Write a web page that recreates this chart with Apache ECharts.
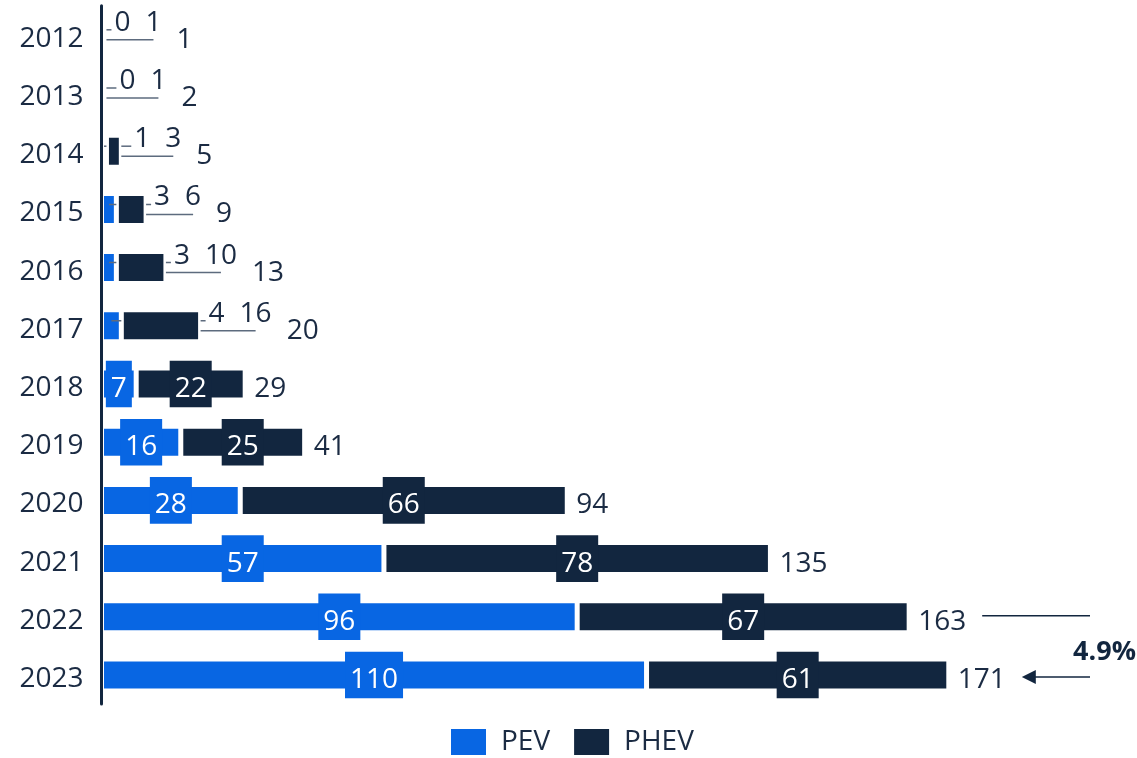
<!DOCTYPE html>
<html>
<head>
<meta charset="utf-8">
<title>PEV and PHEV sales</title>
<script src="https://cdn.jsdelivr.net/npm/echarts@6/dist/echarts.min.js"></script>
<style>
  html, body { margin: 0; padding: 0; background: #ffffff; }
  #chart { width: 1137px; height: 758px; }
</style>
</head>
<body>
<div id="chart"></div>
<script>
// ---- data ----
const years = ['2012', '2013', '2014', '2015', '2016', '2017', '2018', '2019', '2020', '2021', '2022', '2023'];
const pevSales = [0, 0, 1, 3, 3, 4, 7, 16, 28, 57, 96, 110];
const phevSales = [1, 1, 3, 6, 10, 16, 22, 25, 66, 78, 67, 61];
const totalSales = [1, 2, 5, 9, 13, 20, 29, 41, 94, 135, 163, 171];
const seriesNames = ['PEV', 'PHEV'];
const growthText = '4.9%';

// ---- style ----
const BLUE = '#0866e3';
const NAVY = '#12263f';
const TEXT = '#1b2b43';
const GUIDE = '#5d6b7e';
const FONT = '"Open Sans", "Noto Sans", sans-serif';
const FS = 28;
const BAR_W = 32;
const BORDER = 2.5;   // drawn inside the bar, so each side loses this much
const PAD_X = 5;
const TEXT_DROP = 5;  // digits sit slightly below the centre line

const measureCtx = document.createElement('canvas').getContext('2d');
function textW(s, font) {
  measureCtx.font = font || (FS + 'px ' + FONT);
  return measureCtx.measureText(String(s)).width;
}

const chart = echarts.init(document.getElementById('chart'), null, { renderer: 'canvas' });

function segmentSeries(name, vals, color, z, key, g) {
  const out = g ? g.outside : years.map(() => false);
  return {
    name: name,
    type: 'bar',
    stack: 'sales',
    barWidth: BAR_W,
    z: z,
    itemStyle: { color: color, borderColor: '#ffffff', borderWidth: BORDER },
    label: {
      show: true,
      position: 'inside',
      color: '#ffffff',
      fontSize: FS,
      fontFamily: FONT,
      backgroundColor: color,
      padding: [4.3, PAD_X],
      formatter: '{v|{c}}',
      rich: { v: { fontSize: FS, fontFamily: FONT, padding: [2 * TEXT_DROP, 0, 0, 0] } }
    },
    data: vals.map((v, i) => out[i]
      ? { value: v, label: { backgroundColor: 'transparent', color: TEXT, padding: 0 } }
      : v),
    labelLayout: g ? function (p) {
      const i = p.dataIndex;
      if (!out[i]) return {};
      return { x: g.pos[i][key], y: g.rowY[i] - 17, align: 'left', verticalAlign: 'middle' };
    } : undefined
  };
}

function build(g) {
  const out = g ? g.outside : years.map(() => false);
  const graphic = [];
  if (g) {
    // leader lines for labels placed beside the short bars
    years.forEach((y, i) => {
      if (!out[i]) return;
      const cy = g.rowY[i];
      const p = g.pos[i];
      graphic.push({
        type: 'line', z: 3, silent: true,
        shape: { x1: g.x0 + pevSales[i] * g.unit / 2, y1: cy - 5, x2: p.pevX - 3, y2: cy - 5 },
        style: { stroke: GUIDE, lineWidth: 1.5 }
      });
      graphic.push({
        type: 'line', z: 3, silent: true,
        shape: { x1: g.x0 + pevSales[i] * g.unit + 2, y1: cy + 5, x2: p.phevX + textW(phevSales[i]) / 2, y2: cy + 5 },
        style: { stroke: GUIDE, lineWidth: 1.5 }
      });
    });

    // growth annotation between the last two years
    const n = years.length;
    const rightX = g.width - 47;
    const yPrev = g.rowY[n - 2] - 1;
    const yLast = g.rowY[n - 1] + 2;
    const startPrev = g.x0 + totalSales[n - 2] * g.unit + 9 + textW(totalSales[n - 2]) + 16;
    const tipLast = g.x0 + totalSales[n - 1] * g.unit + 9 + textW(totalSales[n - 1]) + 16;
    graphic.push({
      type: 'line', z: 10, silent: true,
      shape: { x1: startPrev, y1: yPrev, x2: rightX, y2: yPrev },
      style: { stroke: NAVY, lineWidth: 1.6 }
    });
    graphic.push({
      type: 'line', z: 10, silent: true,
      shape: { x1: tipLast + 10, y1: yLast, x2: rightX, y2: yLast },
      style: { stroke: NAVY, lineWidth: 1.6 }
    });
    graphic.push({
      type: 'polygon', z: 10, silent: true,
      shape: { points: [[tipLast, yLast], [tipLast + 14, yLast - 7], [tipLast + 14, yLast + 7]] },
      style: { fill: NAVY }
    });
    graphic.push({
      type: 'text', z: 10, silent: true,
      x: g.width - 1,
      y: (yPrev + yLast) / 2 + 6,
      style: {
        text: growthText,
        font: 'bold 27px ' + FONT,
        fill: NAVY,
        align: 'right',
        verticalAlign: 'middle'
      }
    });
  }

  return {
    animation: false,
    backgroundColor: '#ffffff',
    textStyle: { fontFamily: FONT },
    grid: { left: 101.5, right: 44.5, top: 5.7, bottom: 53.9, containLabel: false },
    xAxis: { type: 'value', min: 0, max: 200, show: false },
    yAxis: {
      type: 'category',
      data: years,
      inverse: true,
      z: 10,
      axisLine: { show: true, lineStyle: { color: NAVY, width: 3 } },
      axisTick: { show: false },
      splitLine: { show: false },
      axisLabel: { fontSize: FS, color: TEXT, fontFamily: FONT, margin: 18, verticalAlign: 'top', lineHeight: 8 }
    },
    legend: {
      data: seriesNames,
      left: 446,
      top: 723,
      icon: 'rect',
      itemWidth: 35,
      itemHeight: 26,
      itemGap: 24,
      itemStyle: { borderWidth: 0 },
      textStyle: { fontSize: FS, color: TEXT, fontFamily: FONT, padding: [3, 0, 0, 10] }
    },
    graphic: { elements: graphic },
    series: [
      segmentSeries(seriesNames[0], pevSales, BLUE, 2, 'pevX', g),
      segmentSeries(seriesNames[1], phevSales, NAVY, 4, 'phevX', g),
      {
        name: 'Total',
        type: 'bar',
        barWidth: BAR_W,
        barGap: '-100%',
        z: 4,
        silent: true,
        itemStyle: { color: 'rgba(0,0,0,0)' },
        label: {
          show: true, position: 'right', distance: 9,
          color: TEXT, fontSize: FS, fontFamily: FONT
        },
        data: totalSales,
        labelLayout: g ? function (p) {
          const i = p.dataIndex;
          if (!out[i]) return { dy: TEXT_DROP };
          return { x: g.pos[i].totX, y: g.rowY[i] + TEXT_DROP, align: 'left', verticalAlign: 'middle' };
        } : undefined
      }
    ]
  };
}

// first pass: lay out axes, then read the scale back for label placement
chart.setOption(build(null));
const x0 = chart.convertToPixel({ xAxisIndex: 0 }, 0);
const unit = chart.convertToPixel({ xAxisIndex: 0 }, 1) - x0;
const rowY = years.map((y, i) => chart.convertToPixel({ yAxisIndex: 0 }, i));
const fits = v => v * unit - 2 * BORDER >= textW(v) + 2 * PAD_X;
const outside = years.map((y, i) => !(fits(pevSales[i]) && fits(phevSales[i])));
const pos = years.map((y, i) => {
  const end = x0 + totalSales[i] * unit;
  const pevX = end + 8;
  const phevX = pevX + textW(pevSales[i]) + 15;
  const totX = phevX + textW(phevSales[i]) + 15;
  return { pevX, phevX, totX };
});
const geom = { x0, unit, rowY, outside, pos, width: chart.getWidth() };
chart.setOption(build(geom), { notMerge: true });
</script>
</body>
</html>
